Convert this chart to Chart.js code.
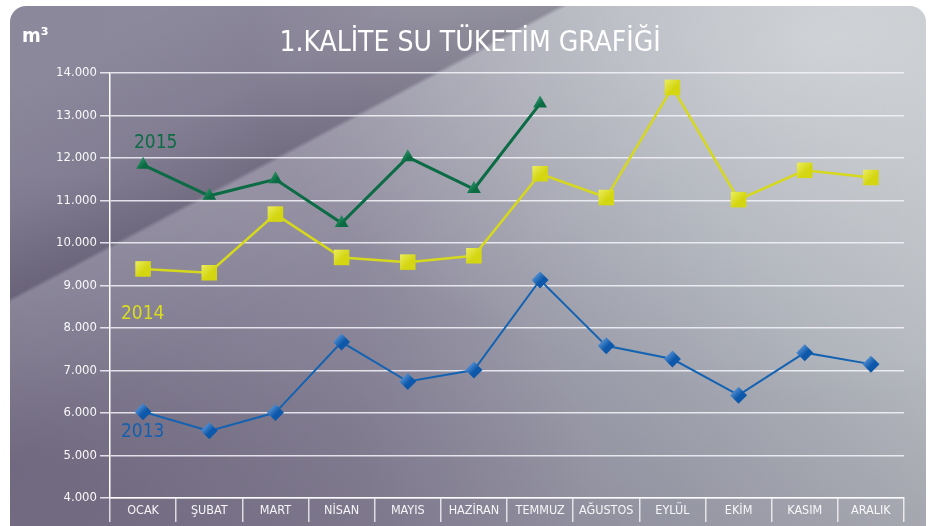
<!DOCTYPE html>
<html lang="tr">
<head>
<meta charset="utf-8">
<title>1.Kalite Su Tüketim Grafiği</title>
<script src="https://cdn.jsdelivr.net/npm/chart.js@4.4.4/dist/chart.umd.min.js"></script>
<style>
  html, body { margin: 0; padding: 0; background: #ffffff; }
  body { width: 929px; height: 526px; overflow: hidden; position: relative; }

  /* kart zemini: mor-gri, sağ üst açık, çapraz kırık */
  .kart {
    position: absolute; left: 10px; top: 6px; width: 916px; height: 540px;
    border-radius: 16px; overflow: hidden;
    background:
      linear-gradient(152deg, rgba(40,30,55,0) 8%, rgba(40,30,55,0.10) 20%, rgba(40,30,55,0.26) 28.4%,
                      rgba(255,255,255,0.07) 28.9%, rgba(255,255,255,0.02) 42%, rgba(255,255,255,0) 55%),
      radial-gradient(ellipse at 0% 85%, rgba(70,58,85,0.38) 0%, rgba(70,58,85,0) 45%),
      linear-gradient(to top, rgba(80,66,92,0.16) 0%, rgba(80,66,92,0) 35%),
      radial-gradient(ellipse at 90% 6%, rgba(218,222,224,0.75) 0%, rgba(218,222,224,0) 50%),
      linear-gradient(to right, #8c889c 0%, #8f8b9e 38%, #a0a3ae 72%, #b4b8be 100%);
  }

  #grafik { position: absolute; left: 0; top: 0; }

  .yazi { position: absolute; white-space: nowrap; font-family: 'DejaVu Sans Condensed', 'DejaVu Sans', sans-serif; }
  .baslik { left: 470px; top: 25px; transform: translateX(-50%); font-size: 28px; color: #ffffff; }
  .birim  { left: 22px; top: 23px; font-size: 20px; color: #ffffff; font-weight: bold; }
  .seri   { font-size: 19px; }
  .s2015  { left: 134px; top: 130px; color: #0d6b45; }
  .s2014  { left: 121px; top: 301px; color: #d9dc1e; }
  .s2013  { left: 121px; top: 419px; color: #1460b0; }
</style>
</head>
<body>
<div class="kart"></div>
<canvas id="grafik" width="929" height="526"></canvas>
<div class="yazi baslik">1.KALİTE SU TÜKETİM GRAFİĞİ</div>
<div class="yazi birim">m³</div>
<div class="yazi seri s2015">2015</div>
<div class="yazi seri s2014">2014</div>
<div class="yazi seri s2013">2013</div>

<script>
/* ── Veriler (m³) ── */
const AYLAR = ['OCAK', 'ŞUBAT', 'MART', 'NİSAN', 'MAYIS', 'HAZİRAN',
               'TEMMUZ', 'AĞUSTOS', 'EYLÜL', 'EKİM', 'KASIM', 'ARALIK'];

const TUKETIM_2013 = [6030, 5580, 6010, 7670, 6740, 7010, 9130, 7580, 7270, 6420, 7420, 7150];
const TUKETIM_2014 = [9390, 9300, 10680, 9660, 9550, 9700, 11630, 11070, 13660, 11020, 11710, 11540];
const TUKETIM_2015 = [11840, 11110, 11500, 10470, 12020, 11270, 13280, null, null, null, null, null];

/* ── Eksen sınırları ── */
const Y_MIN  = 4000;
const Y_MAX  = 14000;
const Y_ADIM = 1000;

const YAZI_DAR = "'Liberation Sans Narrow', 'DejaVu Sans Condensed', sans-serif";

/* işaretçiler için sol üstten sağ alta gölgeli dolgu */
function gradyan(acik, koyu, r) {
  return function (ctx) {
    if (ctx.type !== 'data' || !ctx.parsed) return koyu;
    const ch = ctx.chart;
    if (!ch.scales.x || !ch.scales.y) return koyu;
    const x = ch.scales.x.getPixelForValue(ctx.dataIndex);
    const y = ch.scales.y.getPixelForValue(ctx.parsed.y);
    if (!isFinite(x) || !isFinite(y)) return koyu;
    const g = ch.ctx.createLinearGradient(x - r, y - r, x + r, y + r);
    g.addColorStop(0, acik);
    g.addColorStop(0.55, koyu);
    g.addColorStop(1, koyu);
    return g;
  };
}

function seri(etiket, veri, renk, kalinlik, stil, yaricap, acik, koyu) {
  return {
    label: etiket,
    data: veri,
    borderColor: renk,
    borderWidth: kalinlik,
    tension: 0,
    fill: false,
    spanGaps: false,
    pointStyle: stil,
    pointRadius: yaricap,
    pointBorderWidth: 0,
    pointBorderColor: 'rgba(0,0,0,0)',
    pointBackgroundColor: gradyan(acik, koyu, yaricap)
  };
}

new Chart(document.getElementById('grafik'), {
  type: 'line',
  data: {
    labels: AYLAR,
    datasets: [
      seri('2015', TUKETIM_2015, '#0b6b44', 3,   'triangle', 8,   '#3fae7c', '#0a6a42'),
      seri('2014', TUKETIM_2014, '#d6d81c', 2.5, 'rect',     11,  '#f4f67a', '#d4d612'),
      seri('2013', TUKETIM_2013, '#1462b2', 2,   'rectRot',  8.5, '#7fb2ea', '#0d58aa')
    ]
  },
  options: {
    responsive: false,
    animation: false,
    layout: { padding: { top: 73, right: 25, left: 0, bottom: 0 } },
    plugins: {
      legend: { display: false },
      tooltip: { enabled: false }
    },
    scales: {
      x: {
        offset: true,
        grid: {
          offset: true,
          drawOnChartArea: false,
          drawTicks: true,
          tickLength: 24,
          color: 'rgba(255,255,255,0.75)',
          lineWidth: 1.5
        },
        border: { display: true, color: 'rgba(255,255,255,0.85)', width: 1.5 },
        ticks: {
          color: 'rgba(255,255,255,0.92)',
          font: { family: YAZI_DAR, size: 12.5 },
          padding: -19,
          maxRotation: 0,
          autoSkip: false
        },
        afterFit: function (s) { s.height = 28; }
      },
      y: {
        min: Y_MIN,
        max: Y_MAX,
        grid: {
          color: 'rgba(245,245,250,0.85)',
          lineWidth: 1.5,
          drawTicks: true,
          tickLength: 10
        },
        border: { display: true, color: '#ffffff', width: 1.5 },
        ticks: {
          stepSize: Y_ADIM,
          color: 'rgba(255,255,255,0.95)',
          font: { family: YAZI_DAR, size: 13 },
          padding: 3,
          callback: function (v) { return (v / 1000).toFixed(3); }
        },
        afterFit: function (s) { s.width = 110; }
      }
    }
  }
});
</script>
</body>
</html>
